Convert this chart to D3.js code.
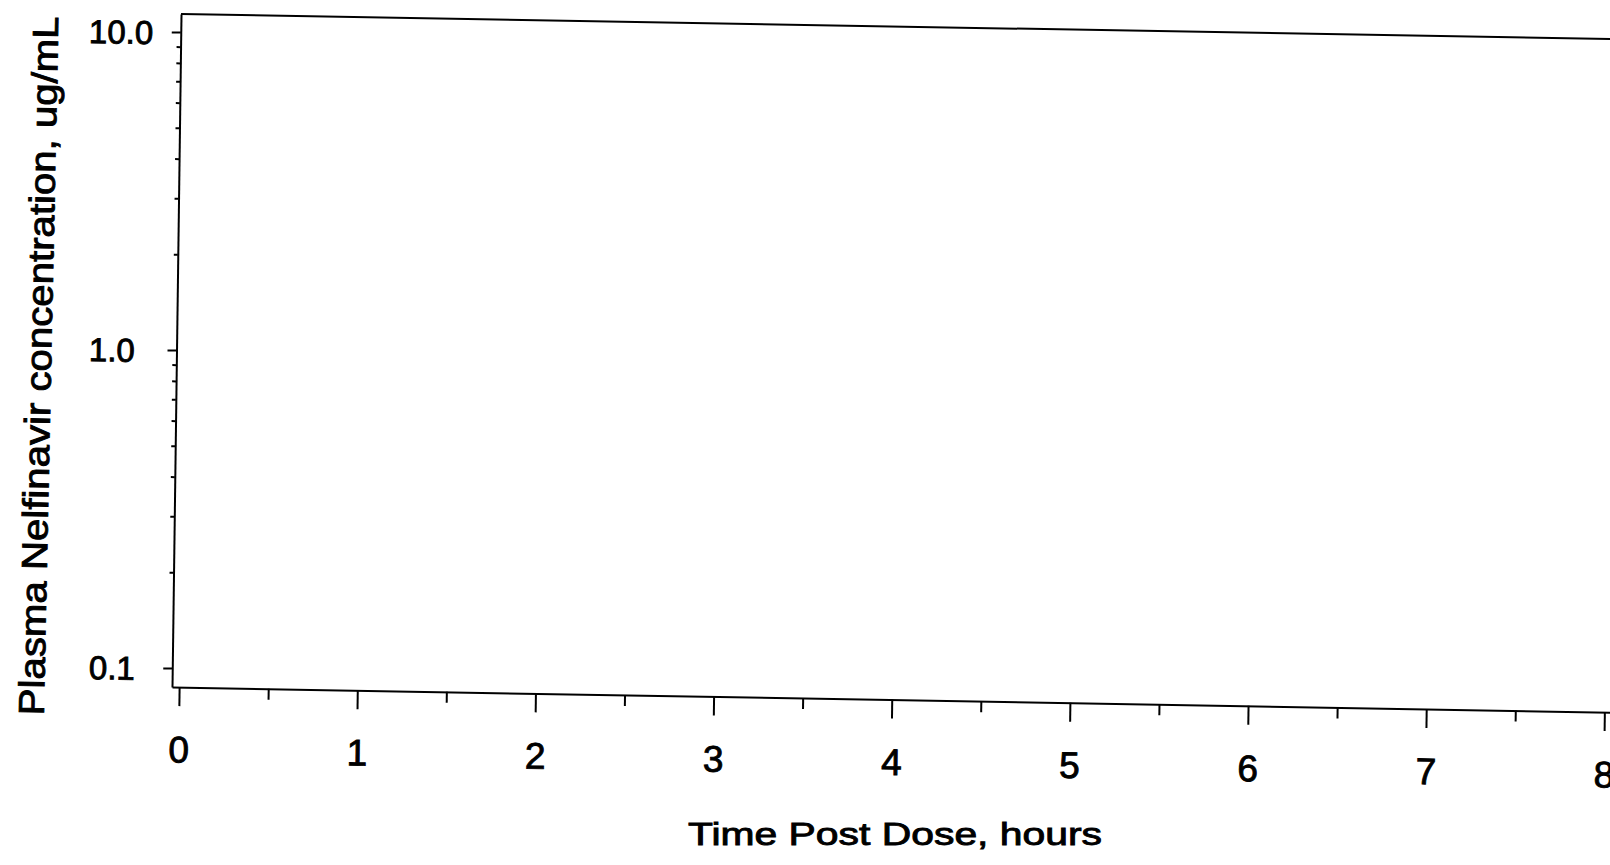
<!DOCTYPE html>
<html>
<head>
<meta charset="utf-8">
<script src="https://cdn.jsdelivr.net/npm/d3@7/dist/d3.min.js"></script>
<style>
  html, body { margin: 0; padding: 0; background: #fff; }
  svg { display: block; }
  text { font-family: "Liberation Sans", Arial, Helvetica, sans-serif; fill: #000; }
</style>
</head>
<body>
<svg id="chart" width="1610" height="865"></svg>
<script>
// ---- data ----
const xTicks = [0, 1, 2, 3, 4, 5, 6, 7, 8];
const xMinorTicks = [0.5, 1.5, 2.5, 3.5, 4.5, 5.5, 6.5, 7.5];
const xDomain = [-0.04, 8.2];
const yTicks = [0.1, 1, 10];
const yTickLabels = ["0.1", "1.0", "10.0"];
const yMinorTicks = [0.2, 0.3, 0.4, 0.5, 0.6, 0.7, 0.8, 0.9, 2, 3, 4, 5, 6, 7, 8, 9];
const yDomain = [0.0872, 11.4];
const xTitle = "Time Post Dose, hours";
const yTitle = "Plasma Nelfinavir concentration, ug/mL";

// ---- layout ----
const mLeft = 172, mRight = 1640, mTop = 14, mBottom = 687;
const skewX = 0.0175, skewY = -0.0134;
const svg = d3.select("#chart");

const x = d3.scaleLinear().domain(xDomain).range([mLeft, mRight]);
const y = d3.scaleLog().domain(yDomain).range([mBottom, mTop]);

// the scanned page is slightly skewed
const g = svg.append("g")
  .attr("transform", `translate(${mLeft},${mBottom}) matrix(1,${skewX},${skewY},1,0,0) translate(${-mLeft},${-mBottom})`);

// top border
g.append("line")
  .attr("x1", x(xDomain[0])).attr("x2", x(xDomain[1]))
  .attr("y1", y(yDomain[1])).attr("y2", y(yDomain[1]))
  .attr("stroke", "#000").attr("stroke-width", 2);

// x axis (major)
const xAxis = g.append("g")
  .attr("transform", `translate(0,${mBottom})`)
  .call(d3.axisBottom(x).tickValues(xTicks).tickSize(19).tickPadding(30).tickSizeOuter(0).tickFormat(d3.format("d")));
// x axis (minor)
g.append("g")
  .attr("transform", `translate(0,${mBottom})`)
  .call(d3.axisBottom(x).tickValues(xMinorTicks).tickSize(11).tickFormat(""))
  .call(s => s.select(".domain").remove());

// y axis (major)
const yAxis = g.append("g")
  .attr("transform", `translate(${mLeft},0)`)
  .call(d3.axisLeft(y).tickValues(yTicks).tickSize(9).tickSizeOuter(0)
    .tickFormat((d, i) => yTickLabels[i]));
// y axis (minor)
g.append("g")
  .attr("transform", `translate(${mLeft},0)`)
  .call(d3.axisLeft(y).tickValues(yMinorTicks).tickSize(4).tickFormat(""))
  .call(s => s.select(".domain").remove());

g.selectAll(".domain, .tick line").attr("stroke", "#000").attr("stroke-width", 2);
g.selectAll(".tick text").attr("fill", "#000").attr("stroke", "#000").attr("stroke-width", 0.9);

xAxis.selectAll(".tick text").attr("font-size", 37).attr("font-family", "Liberation Sans, Arial, sans-serif");
// labels are left-aligned in a column that is not skewed like the axis
yAxis.selectAll(".tick text")
  .attr("font-size", 33).attr("font-family", "Liberation Sans, Arial, sans-serif")
  .attr("text-anchor", "start")
  .attr("x", d => 89 - mLeft + (-skewY) * (y(d) - mBottom))
  .attr("dy", "0.36em");

// axis titles
svg.append("text")
  .attr("x", 895).attr("y", 845)
  .attr("text-anchor", "middle")
  .attr("font-size", 32)
  .attr("stroke", "#000").attr("stroke-width", 0.9)
  .attr("textLength", 414).attr("lengthAdjust", "spacingAndGlyphs")
  .text(xTitle);

svg.append("text")
  .attr("transform", "translate(51,366) rotate(-88.8)")
  .attr("text-anchor", "middle")
  .attr("font-size", 36)
  .attr("stroke", "#000").attr("stroke-width", 0.9)
  .attr("textLength", 699).attr("lengthAdjust", "spacingAndGlyphs")
  .text(yTitle);
</script>
</body>
</html>
